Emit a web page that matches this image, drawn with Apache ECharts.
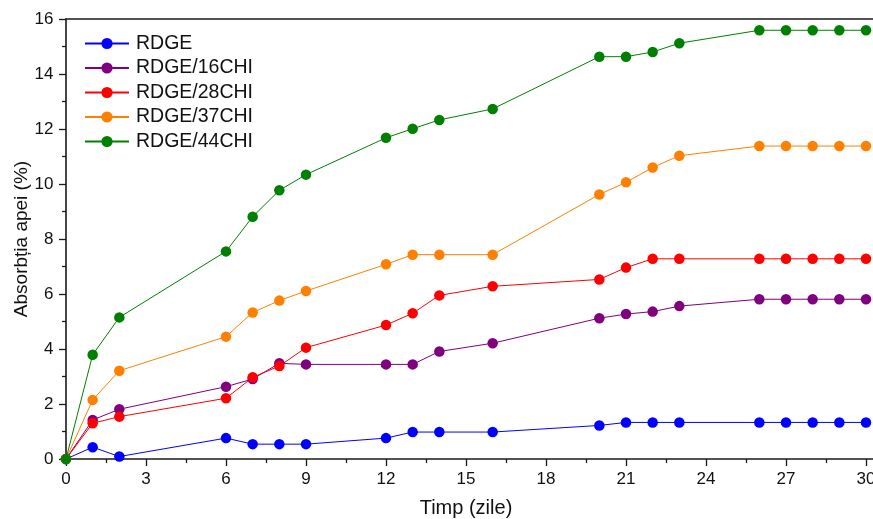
<!DOCTYPE html>
<html>
<head>
<meta charset="utf-8">
<script src="https://cdn.jsdelivr.net/npm/echarts@6/dist/echarts.min.js"></script>
<style>
  html, body { margin: 0; padding: 0; background: #fff; }
  #chart { width: 873px; height: 519px; }
</style>
</head>
<body>
<div id="chart"></div>
<script>
// zile
const days = [0, 1, 2, 6, 7, 8, 9, 12, 13, 14, 16, 20, 21, 22, 23, 26, 27, 28, 29, 30];

const seriesNames = ["RDGE", "RDGE/16CHI", "RDGE/28CHI", "RDGE/37CHI", "RDGE/44CHI"];
const seriesColors = ["#0000ff", "#800080", "#ff0000", "#ff8000", "#008000"];

const rdge   = [0, 0.43, 0.09, 0.76, 0.54, 0.54, 0.54, 0.76, 0.98, 0.98, 0.98, 1.22, 1.33, 1.33, 1.33, 1.33, 1.33, 1.33, 1.33, 1.33];
const rdge16 = [0, 1.42, 1.81, 2.63, 2.91, 3.48, 3.44, 3.44, 3.44, 3.91, 4.21, 5.12, 5.27, 5.36, 5.56, 5.81, 5.81, 5.81, 5.81, 5.81];
const rdge28 = [0, 1.30, 1.54, 2.21, 2.97, 3.38, 4.05, 4.87, 5.30, 5.95, 6.28, 6.53, 6.96, 7.28, 7.28, 7.28, 7.28, 7.28, 7.28, 7.28];
const rdge37 = [0, 2.15, 3.21, 4.45, 5.33, 5.76, 6.11, 7.08, 7.43, 7.43, 7.43, 9.62, 10.06, 10.60, 11.03, 11.38, 11.38, 11.38, 11.38, 11.38];
const rdge44 = [0, 3.79, 5.15, 7.55, 8.81, 9.77, 10.34, 11.68, 12.01, 12.33, 12.73, 14.63, 14.63, 14.80, 15.12, 15.59, 15.59, 15.59, 15.59, 15.59];

const allValues = [rdge, rdge16, rdge28, rdge37, rdge44];

const font = "'Liberation Sans', Arial, sans-serif";
const axisColor = "#1a1a1a";

const chart = echarts.init(document.getElementById("chart"));

const series = allValues.map((vals, i) => ({
    name: seriesNames[i],
    type: "line",
    xAxisIndex: 0,
    yAxisIndex: 0,
    data: vals.map((v, k) => [days[k], v]),
    symbol: "circle",
    symbolSize: 10.5,
    color: seriesColors[i],
    lineStyle: { width: 1, color: seriesColors[i] },
    itemStyle: { color: seriesColors[i] },
    emphasis: { disabled: true }
}));

const option = {
    animation: false,
    backgroundColor: "#fff",
    grid: [
        { left: 66, right: 7, top: 19, bottom: 60, outerBoundsMode: "none", containLabel: false },
        // cadru (linia de sus si axa extinsa pana la margine)
        { left: 66, right: 0, top: 19, bottom: 60, outerBoundsMode: "none", containLabel: false }
    ],
    legend: {
        orient: "vertical",
        left: 79,
        top: 28.5,
        itemWidth: 44,
        itemHeight: 14,
        itemGap: 4.5,
        textStyle: { fontFamily: font, fontSize: 19.5, color: "#111", padding: [0, 0, 0, 2] },
        data: seriesNames
    },
    xAxis: [
        {
            gridIndex: 0,
            type: "value",
            min: 0,
            max: 30,
            interval: 3,
            name: "Timp (zile)",
            nameLocation: "middle",
            nameGap: 39,
            nameMoveOverlap: false,
            nameTextStyle: { fontFamily: font, fontSize: 20, color: "#111" },
            axisLine: { show: false },
            axisTick: { show: true, inside: false, length: 7, lineStyle: { color: axisColor, width: 1.3 } },
            minorTick: { show: true, splitNumber: 2, length: 4, lineStyle: { color: axisColor, width: 1.3 } },
            axisLabel: { fontFamily: font, fontSize: 17, color: "#111", margin: 12 },
            splitLine: { show: false }
        },
        {
            gridIndex: 1,
            type: "value",
            position: "bottom",
            min: 0,
            max: 1,
            axisLine: { show: true, lineStyle: { color: axisColor, width: 1.6 } },
            axisTick: { show: false },
            axisLabel: { show: false },
            splitLine: { show: false }
        },
        {
            gridIndex: 1,
            type: "value",
            position: "top",
            min: 0,
            max: 1,
            axisLine: { show: true, lineStyle: { color: axisColor, width: 1.6 } },
            axisTick: { show: false },
            axisLabel: { show: false },
            splitLine: { show: false }
        }
    ],
    yAxis: [
        {
            gridIndex: 0,
            type: "value",
            min: 0,
            max: 16,
            interval: 2,
            name: "Absorbția apei (%)",
            nameLocation: "middle",
            nameGap: 34.5,
            nameMoveOverlap: false,
            nameTextStyle: { fontFamily: font, fontSize: 19, color: "#111" },
            axisLine: { show: true, onZero: false, lineStyle: { color: axisColor, width: 1.6 } },
            axisTick: { show: true, inside: false, length: 7, lineStyle: { color: axisColor, width: 1.3 } },
            minorTick: { show: true, splitNumber: 2, length: 4, lineStyle: { color: axisColor, width: 1.3 } },
            axisLabel: { fontFamily: font, fontSize: 17, color: "#111", margin: 12.5 },
            splitLine: { show: false }
        },
        {
            gridIndex: 1,
            type: "value",
            min: 0,
            max: 1,
            show: false
        }
    ],
    series: series
};

chart.setOption(option);
</script>
</body>
</html>
